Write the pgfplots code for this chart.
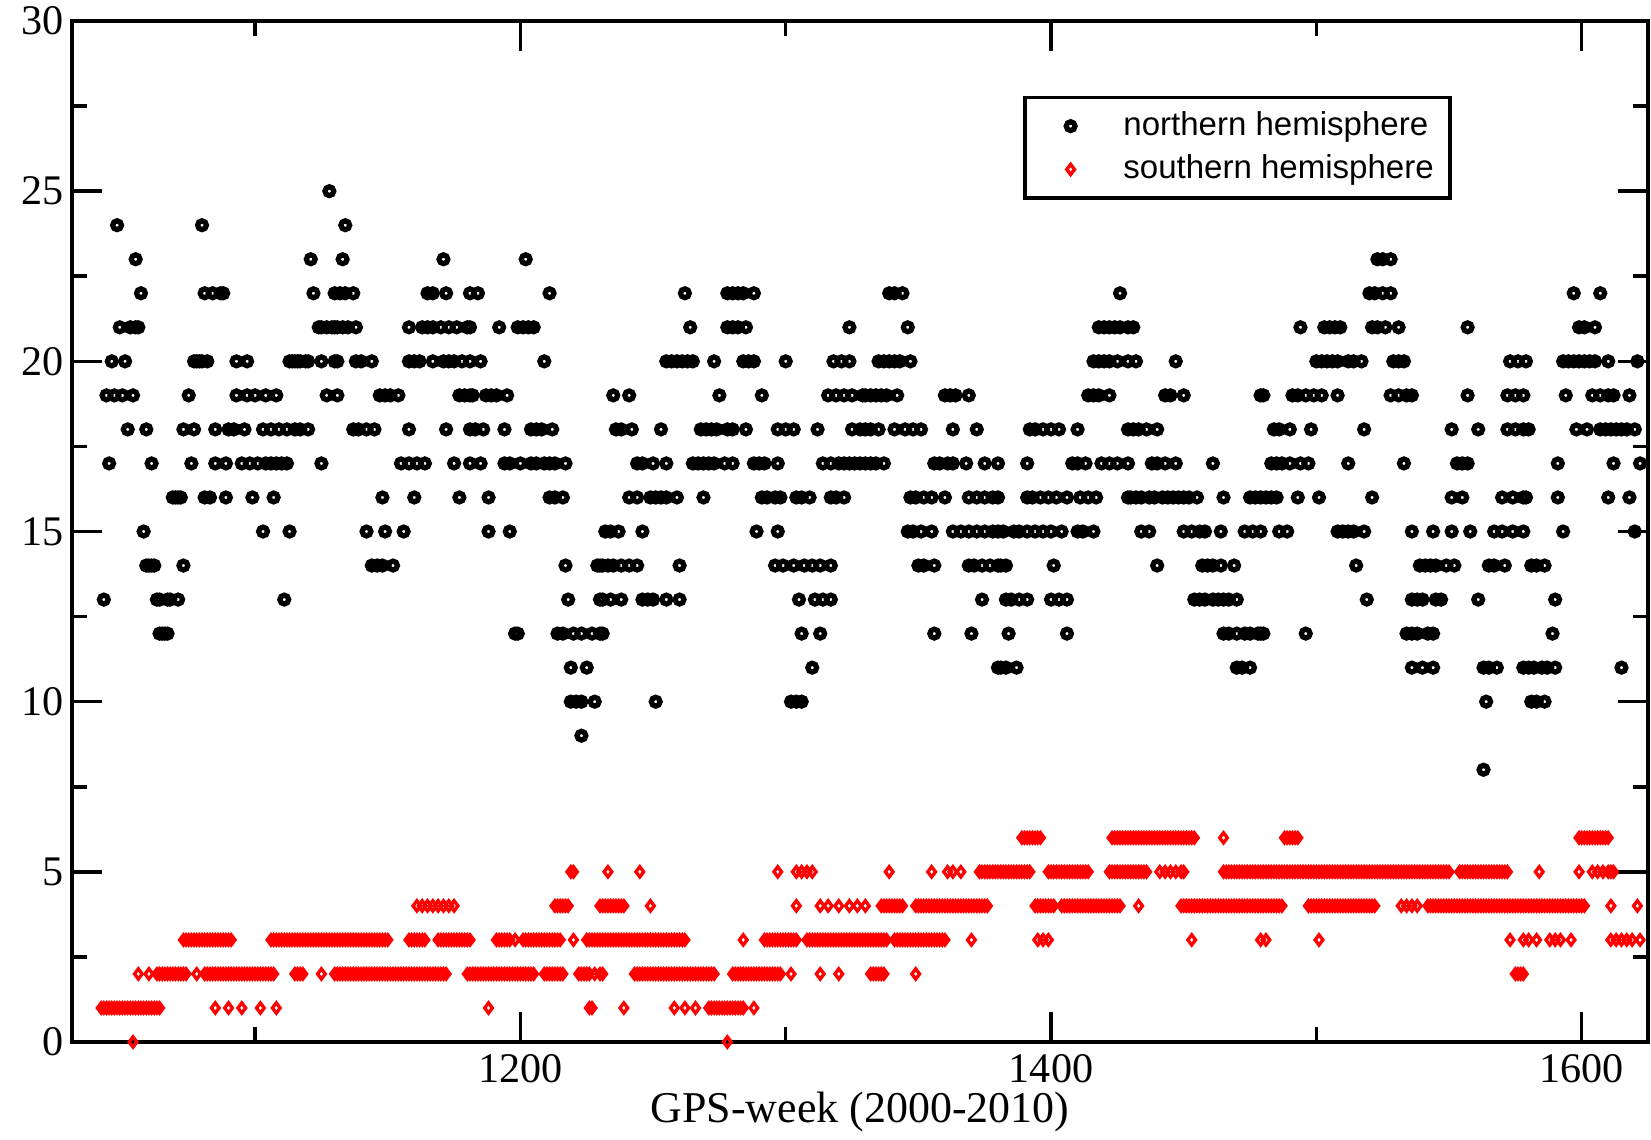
\documentclass[border=0pt]{standalone}
\usepackage{fontspec}
\setmainfont{Liberation Serif}
\newfontfamily\legendfont{Liberation Sans}
\usepackage{pgfplots}
\pgfplotsset{compat=1.18}
\pgfplotsset{mylegimg/.style={legend image code/.code={\path (-0.44cm,0cm) (0.51cm,0cm); \draw[##1] plot coordinates {(0cm,0cm)};}}}
\begin{document}
\begin{tikzpicture}
\begin{axis}[
  width=15.76cm, height=10.21cm, scale only axis,
  at={(0cm,0cm)}, anchor=south west,
  xmin=1031, xmax=1625, ymin=0, ymax=30,
  xtick={1200,1400,1600}, minor xtick={1100,1300,1500},
  ytick={0,5,...,30}, minor ytick={2.5,7.5,...,27.5},
  tick align=inside, major tick length=0.3cm, minor tick length=0.15cm,
  axis line style={line width=1pt},
  every tick/.style={line width=1pt, black},
  tick label style={font=\fontsize{12}{14}\selectfont},
  yticklabel style={xshift=0.04cm},
  /pgf/number format/assume math mode=true,
  /pgf/number format/1000 sep={},
  clip=false,
  legend cell align=left,
  legend style={at={(0.6035,0.9268)}, anchor=north west, draw=black, line width=1pt,
    inner xsep=0pt, nodes={inner xsep=0pt},
    /tikz/every even column/.append style={column sep=0pt},
    font=\legendfont\fontsize{9.4}{11}\selectfont},
]
\addplot[only marks, mark=o, mark size=1.25pt, mark options={draw=black, line width=1.5pt}, mylegimg] coordinates {
(1043,13) (1044,19) (1045,17) (1046,20) (1047,19) (1048,24) (1049,21) (1050,19) (1051,20) (1052,18)
(1053,21) (1054,19) (1055,23) (1055,21) (1056,21) (1057,22) (1058,15) (1059,18) (1059,14) (1060,14)
(1061,14) (1061,17) (1062,14) (1063,13) (1064,12) (1064,13) (1065,12) (1066,12) (1067,13) (1067,12)
(1068,13) (1069,16) (1070,16) (1071,16) (1071,13) (1072,16) (1073,14) (1073,18) (1075,19) (1076,17)
(1077,18) (1077,20) (1078,20) (1079,20) (1080,24) (1080,20) (1081,22) (1081,16)
(1082,20) (1083,16) (1084,22) (1085,18) (1085,17) (1087,22) (1088,22) (1089,17) (1089,16) (1090,18)
(1092,18) (1093,19) (1093,20) (1095,17) (1096,18) (1097,19) (1097,20) (1098,17) (1099,16) (1100,19)
(1101,17) (1103,15) (1103,18) (1104,19) (1104,17) (1106,17) (1106,18) (1107,16) (1108,19) (1108,17)
(1109,18) (1110,17) (1111,13) (1112,17) (1112,18) (1113,15) (1113,20) (1114,20) (1115,20) (1115,18)
(1116,20) (1117,20) (1117,18) (1119,20) (1120,20) (1120,18) (1121,23) (1122,22) (1124,21) (1125,21)
(1125,17) (1125,20) (1127,21) (1127,19) (1128,25) (1129,21) (1130,22) (1130,20) (1130,21)
(1131,20) (1131,19) (1131,21) (1132,22) (1133,21) (1133,23) (1134,24) (1134,22) (1135,21) (1137,22)
(1137,18) (1138,21) (1138,20) (1139,18) (1140,20) (1142,18) (1142,15) (1144,20) (1144,14) (1145,18)
(1146,14) (1147,19) (1148,16) (1148,14) (1149,19) (1149,15) (1151,19) (1152,14) (1154,19) (1155,17)
(1156,15) (1158,17) (1158,18) (1158,21) (1158,20) (1160,20) (1160,16) (1161,17) (1162,20) (1163,21)
(1164,17) (1165,22) (1165,21) (1167,22) (1167,21) (1167,20) (1170,21) (1171,23) (1171,20) (1172,22)
(1172,18) (1173,21) (1173,20) (1175,20) (1175,17) (1176,21) (1177,19) (1177,16) (1178,20) (1179,19)
(1180,21) (1181,22) (1181,19) (1181,20) (1181,18) (1181,17)
(1181,21) (1182,19) (1183,18) (1184,22) (1185,20) (1185,17) (1186,18) (1187,19) (1188,15) (1188,16)
(1189,19) (1191,19) (1192,21) (1194,18) (1194,17) (1195,19) (1196,17) (1196,15) (1198,12) (1199,12)
(1199,21) (1200,17) (1201,21) (1202,23) (1203,21) (1204,18) (1204,17) (1205,21) (1206,18) (1206,17)
(1208,18) (1209,20) (1209,17) (1211,22) (1211,17) (1211,16) (1212,18) (1213,17) (1213,16) (1214,12)
(1216,12) (1216,16) (1217,14) (1217,17) (1218,13) (1219,11) (1219,10) (1220,12) (1221,10) (1223,12)
(1223,9) (1223,10) (1225,11) (1227,12) (1228,10) (1229,14) (1230,12) (1230,13)
(1230,14) (1231,14) (1231,13) (1231,12) (1232,15) (1233,14) (1234,15) (1234,13) (1235,19) (1235,14)
(1236,18) (1237,15) (1238,18) (1238,14) (1238,13) (1241,19) (1241,16) (1241,14) (1242,18) (1244,17)
(1244,16) (1244,14) (1246,17) (1246,15) (1246,13) (1248,13) (1249,16) (1250,17) (1250,13) (1251,10)
(1251,16) (1253,18) (1253,16) (1255,20) (1255,17) (1255,16) (1255,13) (1257,20) (1259,20) (1259,16)
(1260,14) (1260,13) (1261,20) (1262,22) (1263,20) (1264,21) (1265,20) (1265,17) (1267,17) (1268,18)
(1269,17) (1269,16) (1270,18) (1271,17) (1272,18) (1273,17) (1273,20) (1274,18) (1275,19) (1277,17)
(1278,22) (1278,21) (1278,18) (1280,21)
(1280,22) (1280,18) (1280,17) (1282,22) (1282,21) (1284,22) (1284,20) (1285,21) (1285,18) (1286,20)
(1288,22) (1288,20) (1288,17) (1289,15) (1290,17) (1291,19) (1291,16) (1292,17) (1293,16) (1296,16)
(1296,14) (1297,18) (1297,17) (1297,15) (1298,16) (1299,14) (1300,20) (1300,18) (1302,10) (1303,18)
(1303,14) (1304,10) (1304,16) (1305,13) (1306,10) (1306,16) (1306,12) (1307,14) (1309,16) (1310,14)
(1310,11) (1311,13) (1312,18) (1313,14) (1313,12) (1314,17) (1314,13) (1316,19) (1317,17) (1317,16)
(1317,14) (1317,13) (1318,20) (1319,19) (1319,16) (1320,17) (1321,20) (1322,19) (1322,17) (1322,16)
(1324,21) (1324,20) (1324,17) (1325,19) (1325,18) (1326,17) (1328,18) (1328,17) (1329,19) (1330,18)
(1330,17)
(1330,19) (1332,19) (1332,18) (1332,17) (1334,19) (1334,17) (1335,20) (1335,18) (1336,19) (1337,20)
(1337,17) (1338,19) (1339,22) (1339,20) (1341,22) (1341,20) (1341,18) (1342,19) (1343,20) (1344,22)
(1345,18) (1346,21) (1346,15) (1347,20) (1347,16) (1348,18) (1348,15) (1349,16) (1350,14) (1351,18)
(1351,15) (1352,16) (1352,14) (1355,16) (1355,15) (1356,17) (1356,14) (1356,12) (1358,17) (1360,19)
(1360,16) (1361,17) (1362,19) (1363,18) (1363,17) (1363,15) (1364,19) (1366,15) (1368,17) (1369,19)
(1369,16) (1369,15) (1369,14) (1370,12) (1371,14) (1372,18) (1372,16) (1372,15) (1374,13) (1374,14)
(1375,17) (1375,16) (1375,15) (1377,14) (1378,16) (1378,15) (1380,17) (1380,16) (1380,15) (1380,14)
(1380,11)
(1381,14) (1381,11) (1382,15) (1383,14) (1383,13) (1383,11) (1384,12) (1385,13) (1386,15) (1387,11)
(1388,15) (1388,13) (1391,17) (1391,16) (1391,15) (1391,13) (1392,18) (1393,16) (1394,18) (1394,15)
(1396,16) (1397,18) (1397,15) (1399,16) (1400,18) (1400,15) (1400,13) (1401,14) (1402,16) (1403,18)
(1403,13) (1404,15) (1406,16) (1406,13) (1406,12) (1408,17) (1410,18) (1410,17) (1410,15) (1411,16)
(1412,15) (1413,17) (1414,19) (1414,16) (1416,19) (1416,20) (1416,15) (1417,16) (1418,21) (1418,20)
(1418,19) (1419,17) (1420,21) (1420,20) (1422,21) (1422,20) (1422,19) (1422,17) (1424,21) (1425,20)
(1425,17) (1426,22) (1426,21) (1429,21) (1429,20) (1429,18) (1429,17) (1429,16)
(1431,21) (1432,20) (1430,16) (1431,18) (1432,16) (1433,18) (1434,16) (1434,15) (1436,18) (1437,16)
(1437,15) (1438,17) (1439,16) (1440,18) (1440,17) (1440,14) (1442,16) (1443,19) (1443,17) (1444,16)
(1445,19) (1446,16) (1447,20) (1447,17) (1448,16) (1450,19) (1450,16) (1450,15) (1452,16) (1453,15)
(1454,13) (1455,16) (1456,15) (1456,13) (1457,14) (1458,15) (1458,13) (1459,14) (1461,17) (1461,14)
(1461,13) (1463,13) (1464,15) (1464,14) (1465,16) (1465,13) (1465,12) (1467,13) (1467,12) (1469,14)
(1470,13) (1470,12) (1470,11) (1472,11) (1473,15) (1473,12) (1475,16) (1475,12) (1475,11) (1476,15)
(1477,16) (1478,12) (1479,19) (1479,16) (1479,15) (1479,12)
(1480,19) (1480,12) (1481,16) (1483,17) (1483,16) (1484,18) (1485,17) (1485,16) (1486,18) (1486,15)
(1487,17) (1489,15) (1490,18) (1490,17) (1491,19) (1493,19) (1493,16) (1494,21) (1494,17) (1496,19)
(1496,12) (1497,17) (1498,18) (1499,19) (1500,20) (1501,16) (1502,20) (1502,19) (1503,21) (1504,20)
(1505,21) (1506,20) (1507,21) (1508,20) (1508,19) (1508,15) (1509,21) (1510,15) (1512,20) (1512,17)
(1512,15) (1514,20) (1514,15) (1515,14) (1517,20) (1518,18) (1518,15) (1519,13) (1520,22) (1521,16)
(1521,21) (1522,22) (1523,23) (1523,21) (1525,23) (1525,22) (1526,21) (1528,23) (1528,22) (1528,19)
(1529,20)
(1531,21) (1531,20) (1531,19) (1533,20) (1533,17) (1534,19) (1534,12) (1536,19) (1536,15) (1536,13)
(1536,12) (1536,11) (1538,13) (1538,12) (1539,14) (1540,13) (1540,11) (1541,14) (1542,12) (1543,14)
(1544,15) (1544,12) (1544,11) (1545,14) (1545,13) (1547,13) (1549,14) (1551,18) (1551,16) (1551,15)
(1552,14) (1553,17) (1555,17) (1555,16) (1557,21) (1557,19) (1557,17) (1558,15) (1561,18) (1561,13)
(1563,11) (1563,8) (1564,10) (1565,14) (1565,11) (1567,15) (1567,14) (1568,11) (1570,16) (1570,15)
(1571,14) (1572,19) (1572,18) (1573,20) (1574,16) (1574,15) (1575,19) (1575,18) (1576,20) (1578,19)
(1578,18) (1578,16) (1578,15) (1578,11) (1579,20)
(1580,18) (1579,16) (1581,14) (1581,10) (1580,11) (1582,11) (1583,14) (1583,10) (1585,11) (1586,14)
(1586,10) (1587,11) (1589,12) (1590,13) (1590,11) (1591,17) (1591,16) (1593,20) (1593,15) (1594,19)
(1595,20) (1597,22) (1597,20) (1598,18) (1599,21) (1599,20) (1601,21) (1601,20) (1602,18) (1603,20)
(1604,19) (1605,21) (1605,20) (1607,22) (1607,19) (1607,18) (1609,18) (1610,20) (1610,19) (1610,16)
(1611,18) (1612,17) (1612,19) (1613,18) (1615,18) (1615,11) (1617,18) (1618,19) (1618,16) (1620,18)
(1620,15) (1621,20) (1622,17)
};
\addlegendentry{northern hemisphere}
\addplot[only marks, mark=diamond, mark size=1.45pt, mark options={draw=red, line width=0.95pt}, mylegimg] coordinates {
(1054,0) (1278,0)
(1042,1) (1043,1) (1044,1) (1045,1) (1046,1) (1047,1) (1048,1) (1049,1) (1050,1) (1051,1)
(1052,1) (1053,1) (1054,1) (1055,1) (1056,1) (1057,1) (1058,1) (1059,1) (1060,1) (1061,1)
(1062,1) (1063,1) (1064,1)
(1085,1) (1090,1) (1095,1) (1102,1) (1108,1) (1188,1) (1226,1) (1227,1) (1239,1)
(1258,1) (1262,1) (1266,1)
(1271,1) (1272,1) (1273,1) (1274,1) (1275,1) (1276,1) (1277,1) (1278,1) (1279,1) (1280,1)
(1281,1) (1282,1) (1283,1) (1284,1) (1288,1)
(1056,2) (1060,2)
(1063,2) (1064,2) (1065,2) (1066,2) (1067,2) (1068,2) (1069,2) (1070,2) (1071,2) (1072,2) (1073,2) (1074,2)
(1078,2)
(1081,2) (1082,2) (1083,2) (1084,2) (1085,2) (1086,2) (1087,2) (1088,2) (1089,2) (1090,2)
(1091,2) (1092,2) (1093,2) (1094,2) (1095,2) (1096,2) (1097,2) (1098,2) (1099,2) (1100,2)
(1101,2) (1102,2) (1103,2) (1104,2) (1105,2) (1106,2) (1107,2)
(1115,2) (1116,2) (1117,2) (1118,2) (1125,2)
(1130,2) (1131,2) (1132,2) (1133,2) (1134,2) (1135,2) (1136,2) (1137,2) (1138,2) (1139,2)
(1140,2) (1141,2) (1142,2) (1143,2) (1144,2) (1145,2) (1146,2) (1147,2) (1148,2) (1149,2)
(1150,2) (1151,2) (1152,2) (1153,2) (1154,2) (1155,2) (1156,2) (1157,2) (1158,2) (1159,2)
(1160,2) (1161,2) (1162,2) (1163,2) (1164,2) (1165,2) (1166,2) (1167,2) (1168,2) (1169,2)
(1170,2) (1171,2) (1172,2)
(1180,2) (1181,2) (1182,2) (1183,2) (1184,2) (1185,2) (1186,2) (1187,2) (1188,2) (1189,2)
(1190,2) (1191,2) (1192,2) (1193,2) (1194,2) (1195,2) (1196,2) (1197,2) (1198,2) (1199,2)
(1200,2) (1201,2) (1202,2) (1203,2) (1204,2) (1205,2)
(1209,2) (1210,2) (1211,2) (1212,2) (1213,2) (1214,2) (1215,2) (1216,2)
(1222,2) (1223,2) (1224,2) (1225,2) (1226,2) (1228,2) (1230,2) (1231,2)
(1243,2) (1244,2) (1245,2) (1246,2) (1247,2) (1248,2) (1249,2) (1250,2) (1251,2) (1252,2)
(1253,2) (1254,2) (1255,2) (1256,2) (1257,2) (1258,2) (1259,2) (1260,2) (1261,2) (1262,2)
(1263,2) (1264,2) (1265,2) (1266,2) (1267,2) (1268,2) (1269,2) (1270,2) (1271,2) (1272,2) (1273,2)
(1280,2) (1281,2) (1282,2) (1283,2) (1284,2) (1285,2) (1286,2) (1287,2) (1288,2) (1289,2)
(1290,2) (1291,2) (1292,2) (1293,2) (1294,2) (1295,2) (1296,2) (1297,2) (1298,2)
(1302,2) (1313,2) (1320,2)
(1332,2) (1333,2) (1334,2) (1335,2) (1336,2) (1337,2) (1349,2)
(1575,2) (1576,2) (1577,2) (1578,2)
(1073,3) (1074,3) (1075,3) (1076,3) (1077,3) (1078,3) (1079,3) (1080,3) (1081,3) (1082,3)
(1083,3) (1084,3) (1085,3) (1086,3) (1087,3) (1088,3) (1089,3) (1090,3) (1091,3)
(1106,3) (1107,3) (1108,3) (1109,3) (1110,3) (1111,3) (1112,3) (1113,3) (1114,3) (1115,3)
(1116,3) (1117,3) (1118,3) (1119,3) (1120,3) (1121,3) (1122,3) (1123,3) (1124,3) (1125,3)
(1126,3) (1127,3) (1128,3) (1129,3) (1130,3) (1131,3) (1132,3) (1133,3) (1134,3) (1135,3)
(1136,3) (1137,3) (1138,3) (1139,3) (1140,3) (1141,3) (1142,3) (1143,3) (1144,3) (1145,3)
(1146,3) (1147,3) (1148,3) (1149,3) (1150,3)
(1158,3) (1159,3) (1160,3) (1161,3) (1162,3) (1163,3) (1164,3)
(1169,3) (1170,3) (1171,3) (1172,3) (1173,3) (1174,3) (1175,3) (1176,3) (1177,3) (1178,3)
(1179,3) (1180,3) (1181,3)
(1191,3) (1192,3) (1193,3) (1194,3) (1195,3) (1196,3) (1198,3)
(1201,3) (1202,3) (1203,3) (1204,3) (1205,3) (1206,3) (1207,3) (1208,3) (1209,3) (1210,3)
(1211,3) (1212,3) (1213,3) (1214,3) (1215,3) (1220,3)
(1225,3) (1226,3) (1227,3) (1228,3) (1229,3) (1230,3) (1231,3) (1232,3) (1233,3) (1234,3)
(1235,3) (1236,3) (1237,3) (1238,3) (1239,3) (1240,3) (1241,3) (1242,3) (1243,3) (1244,3)
(1245,3) (1246,3) (1247,3) (1248,3) (1249,3) (1250,3) (1251,3) (1252,3) (1253,3) (1254,3)
(1255,3) (1256,3) (1257,3) (1258,3) (1259,3) (1260,3) (1261,3) (1262,3)
(1284,3)
(1292,3) (1293,3) (1294,3) (1295,3) (1296,3) (1297,3) (1298,3) (1299,3) (1300,3) (1301,3)
(1302,3) (1303,3) (1304,3)
(1308,3) (1309,3) (1310,3) (1311,3) (1312,3) (1313,3) (1314,3) (1315,3) (1316,3) (1317,3)
(1318,3) (1319,3) (1320,3) (1321,3) (1322,3) (1323,3) (1324,3) (1325,3) (1326,3) (1327,3)
(1328,3) (1329,3) (1330,3) (1331,3) (1332,3) (1333,3) (1334,3) (1335,3) (1336,3) (1337,3) (1338,3)
(1341,3) (1342,3) (1343,3) (1344,3) (1345,3) (1346,3) (1347,3) (1348,3) (1349,3) (1350,3)
(1351,3) (1352,3) (1353,3) (1354,3) (1355,3) (1356,3) (1357,3) (1358,3) (1359,3) (1360,3)
(1370,3) (1395,3) (1397,3) (1399,3) (1453,3) (1479,3) (1481,3) (1501,3) (1573,3) (1578,3)
(1580,3) (1583,3) (1588,3) (1590,3) (1592,3) (1596,3)
(1611,3) (1613,3) (1615,3) (1617,3) (1619,3) (1622,3)
(1161,4) (1163,4) (1165,4) (1167,4) (1169,4) (1171,4) (1173,4) (1175,4)
(1213,4) (1214,4) (1215,4) (1216,4) (1217,4) (1218,4)
(1230,4) (1231,4) (1232,4) (1233,4) (1234,4) (1235,4) (1236,4) (1237,4) (1238,4) (1239,4)
(1249,4) (1304,4) (1313,4) (1316,4) (1320,4) (1324,4) (1327,4) (1330,4)
(1336,4) (1337,4) (1338,4) (1339,4) (1340,4) (1341,4) (1342,4) (1343,4) (1344,4)
(1349,4) (1350,4) (1351,4) (1352,4) (1353,4) (1354,4) (1355,4) (1356,4) (1357,4) (1358,4)
(1359,4) (1360,4) (1361,4) (1362,4) (1363,4) (1364,4) (1365,4) (1366,4) (1367,4) (1368,4)
(1369,4) (1370,4) (1371,4) (1372,4) (1373,4) (1374,4) (1375,4) (1376,4)
(1394,4) (1395,4) (1396,4) (1397,4) (1398,4) (1399,4) (1400,4) (1401,4)
(1404,4) (1405,4) (1406,4) (1407,4) (1408,4) (1409,4) (1410,4) (1411,4) (1412,4) (1413,4)
(1414,4) (1415,4) (1416,4) (1417,4) (1418,4) (1419,4) (1420,4) (1421,4) (1422,4) (1423,4)
(1424,4) (1425,4) (1426,4) (1433,4)
(1449,4) (1450,4) (1451,4) (1452,4) (1453,4) (1454,4) (1455,4) (1456,4) (1457,4) (1458,4)
(1459,4) (1460,4) (1461,4) (1462,4) (1463,4) (1464,4) (1465,4) (1466,4) (1467,4) (1468,4)
(1469,4) (1470,4) (1471,4) (1472,4) (1473,4) (1474,4) (1475,4) (1476,4) (1477,4) (1478,4)
(1479,4) (1480,4) (1481,4) (1482,4) (1483,4) (1484,4) (1485,4) (1486,4) (1487,4)
(1497,4) (1498,4) (1499,4) (1500,4) (1501,4) (1502,4) (1503,4) (1504,4) (1505,4) (1506,4)
(1507,4) (1508,4) (1509,4) (1510,4) (1511,4) (1512,4) (1513,4) (1514,4) (1515,4) (1516,4)
(1517,4) (1518,4) (1519,4) (1520,4) (1521,4) (1522,4)
(1532,4) (1534,4) (1536,4) (1538,4)
(1542,4) (1543,4) (1544,4) (1545,4) (1546,4) (1547,4) (1548,4) (1549,4) (1550,4) (1551,4)
(1552,4) (1553,4) (1554,4) (1555,4) (1556,4) (1557,4) (1558,4) (1559,4) (1560,4) (1561,4)
(1562,4) (1563,4) (1564,4) (1565,4) (1566,4) (1567,4) (1568,4) (1569,4) (1570,4) (1571,4)
(1572,4) (1573,4) (1574,4) (1575,4) (1576,4) (1577,4) (1578,4) (1579,4) (1580,4) (1581,4)
(1582,4) (1583,4) (1584,4) (1585,4) (1586,4) (1587,4) (1588,4) (1589,4) (1590,4) (1591,4)
(1592,4) (1593,4) (1594,4) (1595,4) (1596,4) (1597,4) (1598,4) (1599,4) (1600,4) (1601,4)
(1611,4) (1621,4)
(1219,5) (1220,5) (1233,5) (1245,5) (1297,5) (1304,5) (1306,5) (1308,5) (1310,5) (1339,5)
(1355,5) (1361,5) (1363,5) (1366,5)
(1373,5) (1374,5) (1375,5) (1376,5) (1377,5) (1378,5) (1379,5) (1380,5) (1381,5) (1382,5)
(1383,5) (1384,5) (1385,5) (1386,5) (1387,5) (1388,5) (1389,5) (1390,5) (1391,5) (1392,5)
(1399,5) (1400,5) (1401,5) (1402,5) (1403,5) (1404,5) (1405,5) (1406,5) (1407,5) (1408,5)
(1409,5) (1410,5) (1411,5) (1412,5) (1413,5) (1414,5)
(1422,5) (1423,5) (1424,5) (1425,5) (1426,5) (1427,5) (1428,5) (1429,5) (1430,5) (1431,5)
(1432,5) (1433,5) (1434,5) (1435,5) (1436,5)
(1441,5) (1443,5) (1445,5) (1447,5) (1449,5) (1450,5)
(1465,5) (1466,5) (1467,5) (1468,5) (1469,5) (1470,5) (1471,5) (1472,5) (1473,5) (1474,5)
(1475,5) (1476,5) (1477,5) (1478,5) (1479,5) (1480,5) (1481,5) (1482,5) (1483,5) (1484,5)
(1485,5) (1486,5) (1487,5) (1488,5) (1489,5) (1490,5) (1491,5) (1492,5) (1493,5) (1494,5)
(1495,5) (1496,5) (1497,5) (1498,5) (1499,5) (1500,5) (1501,5) (1502,5) (1503,5) (1504,5)
(1505,5) (1506,5) (1507,5) (1508,5) (1509,5) (1510,5) (1511,5) (1512,5) (1513,5) (1514,5)
(1515,5) (1516,5) (1517,5) (1518,5) (1519,5) (1520,5) (1521,5) (1522,5) (1523,5) (1524,5)
(1525,5) (1526,5) (1527,5) (1528,5) (1529,5) (1530,5) (1531,5) (1532,5) (1533,5) (1534,5)
(1535,5) (1536,5) (1537,5) (1538,5) (1539,5) (1540,5) (1541,5) (1542,5) (1543,5) (1544,5)
(1545,5) (1546,5) (1547,5) (1548,5) (1549,5) (1550,5)
(1554,5) (1555,5) (1556,5) (1557,5) (1558,5) (1559,5) (1560,5) (1561,5) (1562,5) (1563,5)
(1564,5) (1565,5) (1566,5) (1567,5) (1568,5) (1569,5) (1570,5) (1571,5) (1572,5)
(1584,5) (1599,5) (1604,5) (1606,5) (1608,5) (1610,5) (1611,5) (1612,5)
(1389,6) (1390,6) (1391,6) (1392,6) (1393,6) (1394,6) (1395,6) (1396,6)
(1423,6) (1424,6) (1425,6) (1426,6) (1427,6) (1428,6) (1429,6) (1430,6) (1431,6) (1432,6)
(1433,6) (1434,6) (1435,6) (1436,6) (1437,6) (1438,6) (1439,6) (1440,6) (1441,6) (1442,6)
(1443,6) (1444,6) (1445,6) (1446,6) (1447,6) (1448,6) (1449,6) (1450,6) (1451,6) (1452,6)
(1453,6) (1454,6) (1465,6)
(1488,6) (1489,6) (1490,6) (1491,6) (1492,6) (1493,6)
(1599,6) (1600,6) (1601,6) (1602,6) (1603,6) (1604,6) (1605,6) (1606,6) (1607,6) (1608,6)
(1609,6) (1610,6)
};
\addlegendentry{southern hemisphere\rule{0.16cm}{0pt}}
\end{axis}
\node[font=\fontsize{12.5}{14}\selectfont, anchor=center, inner sep=0pt] at (7.88cm,-0.70cm) {GPS-week (2000-2010)};
\pgfresetboundingbox
\path[use as bounding box] (-0.72cm,-0.97cm) rectangle (15.79cm,10.42cm);
\end{tikzpicture}
\end{document}
